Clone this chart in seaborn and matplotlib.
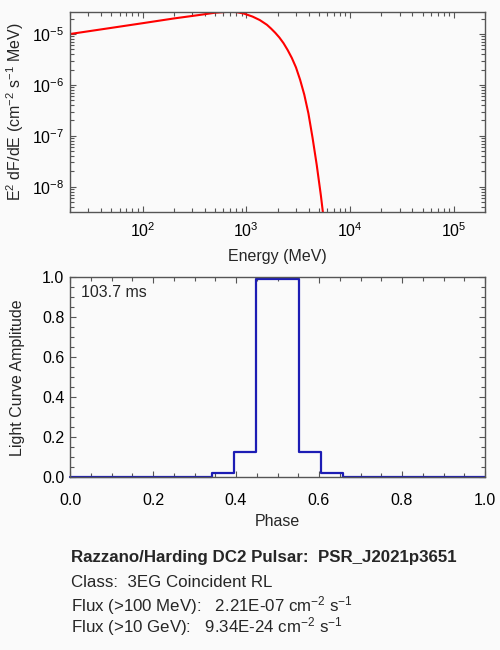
import numpy as np
import pandas as pd
import seaborn as sns
import matplotlib
matplotlib.use('Agg')
import matplotlib.pyplot as plt
from matplotlib.ticker import MultipleLocator, FormatStrFormatter, LogLocator, NullFormatter

# spectrum: E (MeV) and E^2 dF/dE
energy = [20, 50, 100, 200, 350, 500, 650, 800, 950, 1150, 1350, 1580,
          1734, 1901, 2084, 2286, 2506, 2748, 3013, 3304, 3622, 3972,
          4355, 4775, 5236, 5741]
e2dnde = [1.0e-5, 1.32e-5, 1.63e-5, 2.02e-5, 2.36e-5, 2.62e-5, 2.72e-5, 2.70e-5,
          2.52e-5, 2.2e-5, 1.88e-5, 1.52e-5,
          1.279e-5, 1.059e-5, 8.55e-6, 6.61e-6, 4.84e-6, 3.39e-6, 2.21e-6,
          1.26e-6, 6.46e-7, 2.75e-7, 9.12e-8, 2.69e-8, 6.76e-9, 1.41e-9]

# light curve bins
phase = [0.000, 0.053, 0.105, 0.158, 0.211, 0.263, 0.316, 0.368, 0.421, 0.474,
         0.526, 0.579, 0.632, 0.684, 0.737, 0.789, 0.842, 0.895, 0.947, 1.000]
amplitude = [0, 0, 0, 0, 0, 0, 0, 0.023, 0.128, 0.99,
             0.99, 0.128, 0.023, 0, 0, 0, 0, 0, 0, 0]

period_text = '103.7 ms'
title_text = 'Razzano/Harding DC2 Pulsar:  PSR_J2021p3651'
class_text = 'Class:  3EG Coincident RL'
flux100_text = r'Flux (>100 MeV):   2.21E-07 cm$^{-2}$ s$^{-1}$'
flux10g_text = r'Flux (>10 GeV):   9.34E-24 cm$^{-2}$ s$^{-1}$'

sns.set_theme(style='ticks')
plt.rcParams['font.family'] = ['Liberation Sans', 'DejaVu Sans']
plt.rcParams['mathtext.fontset'] = 'custom'
plt.rcParams['mathtext.rm'] = 'Liberation Sans'
plt.rcParams['mathtext.it'] = 'Liberation Sans:italic'
plt.rcParams['mathtext.bf'] = 'Liberation Sans:bold'
plt.rcParams['mathtext.sf'] = 'Liberation Sans'

bg = '#fafafa'
edge = '#555555'
fs = 11.5
fs_info = 12.2

fig = plt.figure(figsize=(5, 6.5), dpi=100, facecolor=bg)
ax1 = fig.add_axes([0.14, 0.674, 0.83, 0.3077])
ax2 = fig.add_axes([0.14, 0.2657, 0.83, 0.3077])

for ax in (ax1, ax2):
    ax.set_facecolor(bg)
    for s in ax.spines.values():
        s.set_color(edge)
        s.set_linewidth(1.0)
    ax.tick_params(which='both', direction='in', top=True, right=True,
                   color=edge, labelcolor='black', labelsize=fs)
    ax.tick_params(which='major', length=4.5, width=0.8)
    ax.tick_params(which='minor', length=2.8, width=0.8)

# top: spectrum
sns.lineplot(x=energy, y=e2dnde, ax=ax1, color='red', linewidth=1.5)
ax1.set_xscale('log')
ax1.set_yscale('log')
ax1.set_xlim(20, 2e5)
ax1.set_ylim(3.2e-9, 2.72e-5)
for axis in (ax1.xaxis, ax1.yaxis):
    axis.set_major_locator(LogLocator(base=10, numticks=20))
    axis.set_minor_locator(LogLocator(base=10, subs=np.arange(2, 10), numticks=20))
    axis.set_minor_formatter(NullFormatter())
ax1.tick_params(axis='x', which='major', pad=7)
ax1.tick_params(axis='y', which='major', pad=4)
ax1.set_xlabel('Energy (MeV)', fontsize=fs, va='center')
ax1.xaxis.set_label_coords(0.5, -0.2235)
ax1.set_ylabel(r'E$^{2}$ dF/dE (cm$^{-2}$ s$^{-1}$ MeV)', fontsize=fs, va='center')
ax1.yaxis.set_label_coords(-0.1325, 0.5)

# bottom: light curve
sns.lineplot(x=phase, y=amplitude, ax=ax2, color='#1c1cb4', linewidth=1.6,
             drawstyle='steps-mid')
for ln in ax2.lines:
    ln.set_clip_on(False)
ax2.set_xlim(0, 1)
ax2.set_ylim(0, 1.0)
ax2.xaxis.set_major_locator(MultipleLocator(0.2))
ax2.xaxis.set_minor_locator(MultipleLocator(0.05))
ax2.yaxis.set_major_locator(MultipleLocator(0.2))
ax2.yaxis.set_minor_locator(MultipleLocator(0.05))
ax2.xaxis.set_major_formatter(FormatStrFormatter('%.1f'))
ax2.yaxis.set_major_formatter(FormatStrFormatter('%.1f'))
ax2.tick_params(axis='x', which='major', pad=11)
ax2.tick_params(axis='y', which='major', pad=4)
ax2.set_xlabel('Phase', fontsize=fs, va='center')
ax2.xaxis.set_label_coords(0.5, -0.2235)
ax2.set_ylabel('Light Curve Amplitude', fontsize=fs, va='center')
ax2.yaxis.set_label_coords(-0.127, 0.5)
ax2.text(0.0265, 0.9215, period_text, transform=ax2.transAxes, fontsize=fs,
         ha='left', va='center')

# info block
x0 = 71 / 500
fig.text(x0, 1 - 561.7 / 650, title_text, fontsize=fs_info, fontweight='bold', va='baseline')
fig.text(x0, 1 - 586.7 / 650, class_text, fontsize=fs_info, va='baseline')
fig.text(x0, 1 - 611.7 / 650, flux100_text, fontsize=fs_info, va='baseline')
fig.text(x0, 1 - 632.5 / 650, flux10g_text, fontsize=fs_info, va='baseline')

fig.savefig('out.png', dpi=100, facecolor=bg)
